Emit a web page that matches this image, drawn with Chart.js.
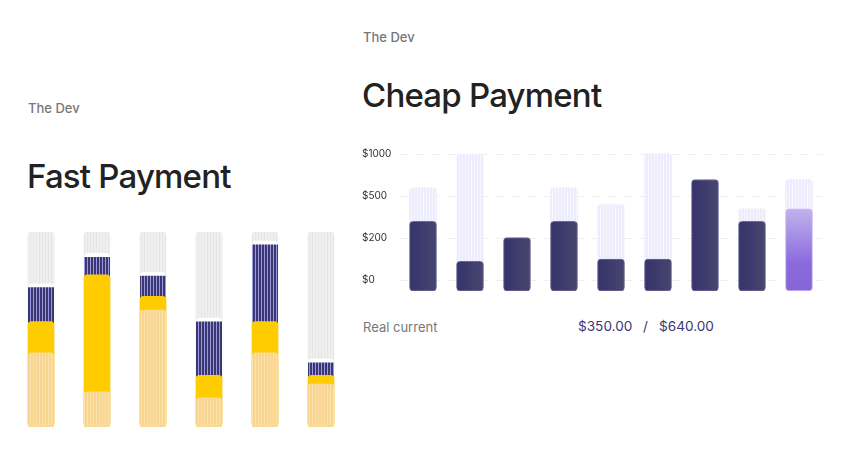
<!DOCTYPE html>
<html><head><meta charset="utf-8">
<script src="https://cdn.jsdelivr.net/npm/chart.js@4"></script>
<style>
html,body{margin:0;padding:0;background:#fff;width:851px;height:455px;overflow:hidden;font-family:Inter,"Noto Sans",sans-serif;}
.t{position:absolute;line-height:1;white-space:nowrap;}
.sub{font-size:13px;color:#777;font-weight:500;}
.title{font-size:33px;color:#222;font-weight:500;letter-spacing:-0.8px;}
.wrap{position:absolute;}
</style></head><body>
<div class="t sub" style="left:28px;top:102px">The Dev</div>
<div class="t title" style="left:27px;top:160px">Fast Payment</div>
<div class="t sub" style="left:363px;top:30.5px">The Dev</div>
<div class="t title" style="left:362px;top:79px">Cheap Payment</div>
<div class="t" style="left:363px;top:320.5px;font-size:13px;color:#777">Real current</div>
<div class="t" style="left:578px;top:320px;font-size:13.6px;color:#3b3775">$350.00</div>
<div class="t" style="left:643px;top:320px;font-size:13.6px;color:#3b3775">/</div>
<div class="t" style="left:659px;top:320px;font-size:13.6px;color:#3b3775">$640.00</div>
<div class="wrap" style="left:13px;top:232px;width:336px;height:195px"><canvas id="fast"></canvas></div>
<div class="wrap" style="left:355px;top:140px;width:475px;height:160px"><canvas id="cheap"></canvas></div>
<script>
// ---------- Fast Payment data (segment sizes, % of full bar) ----------
const fastCategories = ['A', 'B', 'C', 'D', 'E', 'F'];
const fastBase = [38, 18, 60, 15, 38, 22];       // light yellow bottom segment
const fastMid = [16, 60, 7, 11.5, 16, 4.5];      // bright yellow segment
const fastTop = [19.5, 11, 12.5, 29.5, 41.5, 8.5]; // navy segment
const fastMax = 100;                             // grey track (full bar)

// ---------- Cheap Payment data (dollars) ----------
const cheapCategories = ['1', '2', '3', '4', '5', '6', '7', '8', '9'];
const cheapTicks = [0, 200, 500, 1000];
const cheapLimit = [600, 1000, null, 600, 440, 1010, null, 410, 700];
const cheapSpent = [320, 90, 205, 320, 100, 100, 700, 320, 410];
const highlightIndex = 8;

function stripes(base, line, period, lw) {
  const c = document.createElement('canvas');
  c.width = period; c.height = 4;
  const g = c.getContext('2d');
  g.fillStyle = base; g.fillRect(0, 0, period, 4);
  g.fillStyle = line; g.fillRect(period - lw, 0, lw, 4);
  return g.createPattern(c, 'repeat');
}

// ---------- Left chart ----------
const cum1 = fastBase.slice();
const cum2 = fastBase.map((v, i) => v + fastMid[i]);
const cum3 = cum2.map((v, i) => v + fastTop[i]);
const fullTrack = fastCategories.map(() => fastMax);

const grey = stripes('#efefef', '#e6e6e6', 3, 1);
const navy = stripes('#3a386f', '#9b97e4', 3, 1);
const lightY = stripes('#f9d68f', '#fbe1ad', 3, 1);

const common = { grouped: false, barThickness: 26, borderRadius: 4, borderSkipped: false };
new Chart(document.getElementById('fast'), {
  type: 'bar',
  data: {
    labels: fastCategories,
    datasets: [
      Object.assign({ data: cum1, backgroundColor: lightY }, common),
      Object.assign({ data: cum2, backgroundColor: '#ffcc00' }, common),
      Object.assign({ data: cum3, backgroundColor: navy, borderColor: '#ffffff',
        borderWidth: { top: 4, left: 0, right: 0, bottom: 0 } }, common),
      Object.assign({ data: fullTrack, backgroundColor: grey }, common)
    ]
  },
  options: {
    responsive: true, maintainAspectRatio: false, animation: false,
    layout: { padding: 0 },
    plugins: { legend: { display: false }, tooltip: { enabled: false } },
    scales: {
      x: { display: false },
      y: { display: false, min: 0, max: fastMax }
    }
  }
});

// ---------- Right chart ----------
function toAxis(v) {
  for (let i = 0; i < cheapTicks.length - 1; i++) {
    if (v <= cheapTicks[i + 1]) return i + (v - cheapTicks[i]) / (cheapTicks[i + 1] - cheapTicks[i]);
  }
  const n = cheapTicks.length - 1;
  return n + (v - cheapTicks[n]) / (cheapTicks[n] - cheapTicks[n - 1]);
}
const FLOOR = -0.26;
const lav = stripes('#edecfc', '#f7f6ff', 3, 1);

function spentColor(ctx) {
  const chart = ctx.chart;
  if (ctx.type !== 'data' || !chart.chartArea) return '#3a386c';
  const x = chart.scales.x.getPixelForValue(ctx.dataIndex);
  const g = chart.ctx;
  if (ctx.dataIndex === highlightIndex) {
    const top = chart.scales.y.getPixelForValue(toAxis(cheapSpent[ctx.dataIndex]));
    const bot = chart.scales.y.getPixelForValue(FLOOR);
    const gr = g.createLinearGradient(0, top, 0, bot);
    gr.addColorStop(0, '#c2b2ee');
    gr.addColorStop(0.65, '#8b6bdb');
    gr.addColorStop(1, '#8665d9');
    return gr;
  }
  const gr = g.createLinearGradient(x - 13.5, 0, x + 13.5, 0);
  gr.addColorStop(0, '#35336a');
  gr.addColorStop(1, '#48466f');
  return gr;
}

new Chart(document.getElementById('cheap'), {
  type: 'bar',
  data: {
    labels: cheapCategories,
    datasets: [
      {
        data: cheapSpent.map(v => [FLOOR, toAxis(v)]),
        backgroundColor: spentColor,
        borderColor: ctx => ctx.dataIndex === highlightIndex ? '#c9bcf3' : '#6b6993',
        borderWidth: 1, grouped: false, barThickness: 27, borderRadius: 4, borderSkipped: false
      },
      {
        data: cheapLimit.map(v => v === null ? null : [FLOOR, toAxis(v)]),
        backgroundColor: lav,
        grouped: false, barThickness: 27, borderRadius: 4, borderSkipped: false
      }
    ]
  },
  options: {
    responsive: true, maintainAspectRatio: false, animation: false,
    layout: { padding: { left: 7, right: 7.5, top: 12.3, bottom: 5.6 } },
    plugins: { legend: { display: false }, tooltip: { enabled: false } },
    scales: {
      x: { display: false },
      y: {
        min: FLOOR, max: 3.05,
        afterBuildTicks: s => { s.ticks = cheapTicks.map((t, i) => ({ value: i })); },
        afterFit: s => { s.width = 37.5; },
        ticks: {
          callback: v => '$' + cheapTicks[v],
          crossAlign: 'far',
          font: { family: 'Inter', size: 10 },
          color: '#333'
        },
        grid: { color: '#efefef', drawTicks: false, lineWidth: 1 },
        border: { display: false, dash: [8, 8] }
      }
    }
  }
});
</script>
</body></html>
